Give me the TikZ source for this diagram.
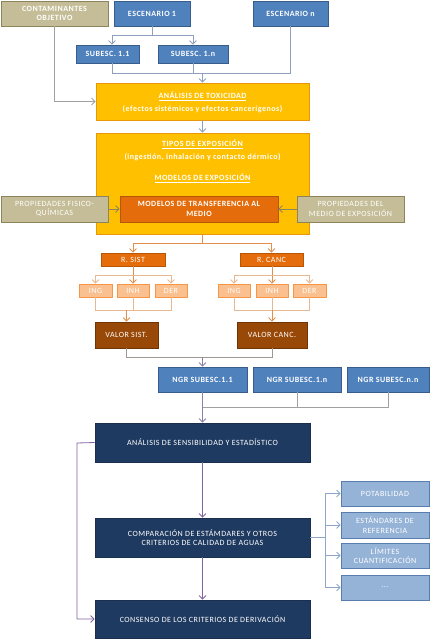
\documentclass[tikz,border=0pt]{standalone}
\usepackage{fontspec}
\setmainfont{Carlito}[LetterSpace=6]
\usetikzlibrary{arrows.meta}
\definecolor{bfill}{HTML}{4F81BD}\definecolor{bdraw}{HTML}{385D8A}
\definecolor{tfill}{HTML}{C4BD97}\definecolor{tdraw}{HTML}{8C845C}
\definecolor{yfill}{HTML}{FFC000}\definecolor{ydraw}{HTML}{E8960C}
\definecolor{ofill}{HTML}{E46C0A}\definecolor{odraw}{HTML}{B65708}
\definecolor{lofill}{HTML}{FAC090}\definecolor{lodraw}{HTML}{F79646}
\definecolor{vfill}{HTML}{984807}\definecolor{vdraw}{HTML}{6F3505}
\definecolor{nfill}{HTML}{1F3A60}\definecolor{ndraw}{HTML}{1A2F4E}
\definecolor{lbfill}{HTML}{95B3D7}\definecolor{lbdraw}{HTML}{5A7DB0}
\definecolor{ctop}{HTML}{8FA0BC}\definecolor{cgray}{HTML}{A0A0A0}
\definecolor{corg}{HTML}{E0904C}\definecolor{clorg}{HTML}{E8B890}
\definecolor{cbrg}{HTML}{A09890}\definecolor{cpg}{HTML}{8A80A8}
\definecolor{cpur}{HTML}{8064A2}\definecolor{crb}{HTML}{8FA6C8}
\tikzset{
  x=1pt,y=-1pt,
  bx/.style={rectangle,inner sep=1pt,line width=0.8pt,align=center,text=white,font=\fontsize{8}{9.5}\selectfont},
  blue/.style={bx,fill=bfill,draw=bdraw,font=\fontsize{8}{9.5}\selectfont\bfseries},
  tan/.style={bx,fill=tfill,draw=tdraw},
  tanb/.style={tan,font=\fontsize{8}{9.5}\selectfont\bfseries},
  yel/.style={bx,fill=yfill,draw=ydraw},
  org/.style={bx,fill=ofill,draw=odraw,font=\fontsize{8}{9.5}\selectfont\bfseries},
  orgr/.style={bx,fill=ofill,draw=odraw},
  lorg/.style={bx,fill=lofill,draw=lodraw},
  val/.style={bx,fill=vfill,draw=vdraw},
  navy/.style={bx,fill=nfill,draw=ndraw},
  lblue/.style={bx,fill=lbfill,draw=lbdraw},
  ytxt/.style={text=white,font=\fontsize{8}{9.5}\selectfont\bfseries,inner sep=0pt},
  ln/.style={line width=0.8pt},
  ar/.style={ln,-{Straight Barb[length=3.5pt,width=7pt]}},
}
\begin{document}
\begin{tikzpicture}
\useasboundingbox (0,0) rectangle (432,642);
% top row
\node[tanb,minimum width=107pt,minimum height=25pt] (cont) at (54.5,13.5) {CONTAMINANTES\\OBJETIVO};
\node[blue,minimum width=76pt,minimum height=25pt] (esc1) at (152,13.5) {ESCENARIO 1};
\node[blue,minimum width=75pt,minimum height=25pt] (escn) at (290.5,13.5) {ESCENARIO n};
\node[blue,minimum width=63pt,minimum height=18pt] (sub11) at (107.5,54) {SUBESC. 1.1};
\node[blue,minimum width=70pt,minimum height=18pt] (sub1n) at (193,54) {SUBESC. 1.n};
% analysis
\node[yel,minimum width=213pt,minimum height=37pt] (anal) at (202.5,101.5) {};
\node[ytxt] (analt) at (202.5,96) {\underline{ANÁLISIS DE TOXICIDAD}};
\node[ytxt] (anals) at (202.5,109) {(efectos sistémicos y efectos cancerígenos)};
\node[yel,minimum width=213pt,minimum height=101pt] (tipos) at (202.5,183.5) {};
\node[ytxt] (tipost) at (202.5,144) {\underline{TIPOS DE EXPOSICIÓN}};
\node[ytxt] (tiposs) at (202.5,157) {(ingestión, inhalación y contacto dérmico)};
\node[ytxt] (modt) at (202.5,178) {\underline{MODELOS DE EXPOSICIÓN}};
\node[org,minimum width=158pt,minimum height=26pt] (modtr) at (199,209) {MODELOS DE TRANSFERENCIA AL\\MEDIO};
\node[tan,minimum width=107pt,minimum height=26pt] (propf) at (54.5,209) {PROPIEDADES FISICO-\\QUÍMICAS};
\node[tan,minimum width=107pt,minimum height=26pt] (propm) at (350.5,209) {PROPIEDADES DEL\\MEDIO DE EXPOSICIÓN};
% risks
\node[orgr,minimum width=64pt,minimum height=13pt] (rsist) at (133,259.5) {R. SIST};
\node[orgr,minimum width=63pt,minimum height=13pt] (rcanc) at (271.5,259.5) {R. CANC};
\node[lorg,minimum width=33pt,minimum height=13pt] (ing1) at (95.5,290.5) {ING};
\node[lorg,minimum width=32pt,minimum height=13pt] (inh1) at (133,290.5) {INH};
\node[lorg,minimum width=32pt,minimum height=13pt] (der1) at (171,290.5) {DER};
\node[lorg,minimum width=32pt,minimum height=13pt] (ing2) at (234,290.5) {ING};
\node[lorg,minimum width=32pt,minimum height=13pt] (inh2) at (272,290.5) {INH};
\node[lorg,minimum width=33pt,minimum height=13pt] (der2) at (309.5,290.5) {DER};
\node[val,minimum width=63pt,minimum height=26pt] (vsist) at (126.5,335) {VALOR SIST.};
\node[val,minimum width=70pt,minimum height=26pt] (vcanc) at (272,335) {VALOR CANC.};
% NGR
\node[blue,minimum width=89pt,minimum height=25pt] (ngr1) at (202.5,379.5) {NGR SUBESC.1.1};
\node[blue,minimum width=88pt,minimum height=25pt] (ngr2) at (297,379.5) {NGR SUBESC.1.n};
\node[blue,minimum width=82pt,minimum height=25pt] (ngr3) at (388,379.5) {NGR SUBESC.n.n};
% bottom
\node[navy,minimum width=215pt,minimum height=39pt] (sens) at (202.5,442.5) {ANÁLISIS DE SENSIBILIDAD Y ESTADÍSTICO};
\node[navy,minimum width=215pt,minimum height=39pt] (comp) at (202.5,537.5) {COMPARACIÓN DE ESTÁMDARES Y OTROS\\CRITERIOS DE CALIDAD DE AGUAS};
\node[navy,minimum width=215pt,minimum height=38pt] (cons) at (202.5,619) {CONSENSO DE LOS CRITERIOS DE DERIVACIÓN};
\node[lblue,minimum width=88pt,minimum height=25pt] (pot) at (385,493.5) {POTABILIDAD};
\node[lblue,minimum width=88pt,minimum height=26pt] (est) at (385,525) {ESTÁNDARES DE\\REFERENCIA};
\node[lblue,minimum width=88pt,minimum height=25pt] (lim) at (385,555.5) {LÍMITES\\CUANTIFICACIÓN};
\node[lblue,minimum width=88pt,minimum height=25pt] (dots) at (385,587.5) {...};
% coordinates
\coordinate (j1) at (152,35);
\coordinate (j2) at (202.5,73);
\coordinate (j3) at (202.5,243);
\coordinate (j4) at (133,275);
\coordinate (j5) at (126.5,310);
\coordinate (j6) at (272,275);
\coordinate (j7) at (272,310);
\coordinate (j8) at (202.5,357);
\coordinate (j9) at (202.5,407);
\coordinate (j10) at (77,443);
\coordinate (j11) at (325,537.5);
% top connectors
\draw[ln,ctop] (esc1.south) -- (j1);
\draw[ar,ctop] (j1) -| (sub11.north -| 112,0);
\draw[ar,ctop] (j1) -| (sub1n.north);
\draw[ln,ctop] (sub11.south -| 112,0) |- (j2);
\draw[ln,ctop] (sub1n.south) |- (j2);
\draw[ln,ctop] (escn.south) |- (j2);
\draw[ar,ctop] (j2) -- (anal.north);
\draw[ar,cgray] (cont.south) |- (anal.west);
\draw[ar,ctop] (anal.south) -- (tipos.north);
\draw[ar,tdraw] (propf.east) -- (modtr.west);
\draw[ar,tdraw] (propm.west) -- (modtr.east);
% orange connectors
\draw[ln,corg] (tipos.south) -- (j3);
\draw[ar,corg] (j3) -| (rsist.north);
\draw[ar,corg] (j3) -| (rcanc.north);
\draw[ln,corg] (rsist.south) -- (j4);
\draw[ar,clorg] (j4) -| (ing1.north);
\draw[ar,corg] (j4) -- (inh1.north);
\draw[ar,clorg] (j4) -| (der1.north);
\draw[ln,clorg] (ing1.south) |- (j5);
\draw[ln,clorg] (der1.south) |- (j5);
\draw[ln,clorg] (inh1.south) -- (inh1.south |- j5);
\draw[ar,corg] (j5) -- (vsist.north);
\draw[ln,corg] (rcanc.south -| j6) -- (j6);
\draw[ar,clorg] (j6) -| (ing2.north);
\draw[ar,corg] (j6) -- (inh2.north);
\draw[ar,clorg] (j6) -| (der2.north);
\draw[ln,clorg] (ing2.south) |- (j7);
\draw[ln,clorg] (der2.south) |- (j7);
\draw[ln,clorg] (inh2.south) -- (j7);
\draw[ar,corg] (j7) -- (vcanc.north);
% to NGR
\draw[ln,cbrg] (vsist.south) |- (j8);
\draw[ln,cbrg] (vcanc.south) |- (j8);
\draw[ar,cpg] (j8) -- (ngr1.north);
\draw[ln,cgray] (ngr2.south) |- (j9);
\draw[ln,cgray] (ngr3.south) |- (j9);
\draw[ar,cpg] (ngr1.south) -- (sens.north);
% bottom
\draw[ar,cpur] (sens.west) -- (j10) |- (cons.west);
\draw[ar,cpur] (sens.south) -- (comp.north);
\draw[ar,cpur] (comp.south) -- (cons.north);
\draw[ln,crb] (comp.east) -- (j11);
\draw[ar,crb] (j11) |- (pot.west);
\draw[ar,crb] (j11) |- (est.west);
\draw[ar,crb] (j11) |- (lim.west);
\draw[ar,crb] (j11) |- (dots.west);
\end{tikzpicture}
\end{document}
